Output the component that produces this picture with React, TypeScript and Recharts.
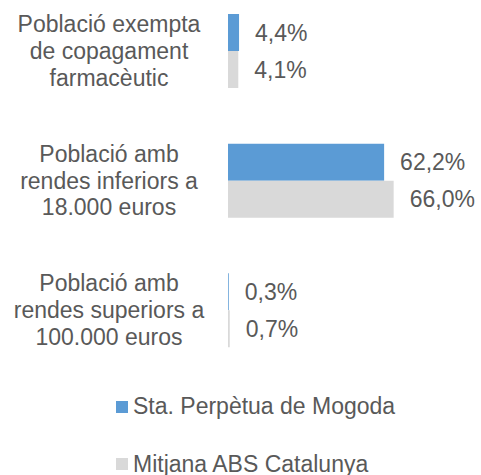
import React from 'react'
import { BarChart, Bar, XAxis, YAxis, LabelList, Legend } from 'recharts'

// categories (line breaks as in the original labels)
const categories = [
  'Població exempta\nde copagament\nfarmacèutic',
  'Població amb\nrendes inferiors a\n18.000 euros',
  'Població amb\nrendes superiors a\n100.000 euros',
]
const mogoda = [4.4, 62.2, 0.3]
const catalunya = [4.1, 66.0, 0.7]
const seriesNames = ['Sta. Perpètua de Mogoda', 'Mitjana ABS Catalunya']

const data = categories.map((c, i) => ({
  name: c,
  mogoda: mogoda[i],
  catalunya: catalunya[i],
}))

const FONT = '"Liberation Sans", Arial, sans-serif'
const TEXT = '#595959'
const BLUE = '#5B9BD5'
const GRAY = '#D9D9D9'

const fmt = (v: unknown) => `${(v as number).toFixed(1).replace('.', ',')}%`

// etiqueta de categoria en diverses línies, centrada
const CategoryTick = (props: any) => {
  const { x, y, payload } = props
  const lines = String(payload.value).split('\n')
  const lineH = 26.7
  const cx = x - 119
  return (
    <text x={cx} y={y} textAnchor="middle" fill={TEXT} fontSize={23} fontFamily={FONT}>
      {lines.map((l, i) => (
        <tspan key={i} x={cx} dy={i === 0 ? -lineH * (lines.length - 1) / 2 + 8 : lineH}>
          {l}
        </tspan>
      ))}
    </text>
  )
}

const LegendContent = (props: any) => {
  // mateix ordre que les sèries
  const items = [...(props.payload || [])].sort(
    (a: any, b: any) => seriesNames.indexOf(a.value) - seriesNames.indexOf(b.value)
  )
  return (
    <div style={{ height: 100, position: 'relative', fontFamily: FONT, fontSize: 23, color: TEXT }}>
      {items.map((p: any, i: number) => (
        <div
          key={i}
          style={{
            position: 'absolute',
            top: 18 + i * 57.5,
            left: 0,
            height: 27,
            display: 'flex',
            alignItems: 'center',
            whiteSpace: 'nowrap',
          }}
        >
          <span style={{ width: 12, height: 12, background: p.color, marginRight: 5, display: 'inline-block' }} />
          <span style={{ lineHeight: '27px' }}>{p.value}</span>
        </div>
      ))}
    </div>
  )
}

export default function App() {
  return (
    <div style={{ position: 'absolute', top: 0, left: 0, width: 481, height: 475, background: '#fff' }}>
      <BarChart
        width={481}
        height={475}
        data={data}
        layout="vertical"
        margin={{ top: -14, right: 2, left: 0, bottom: 0 }}
        barGap={0}
      >
        <XAxis type="number" domain={[0, 100]} hide />
        <YAxis
          type="category"
          dataKey="name"
          width={228}
          axisLine={false}
          tickLine={false}
          tickSize={0}
          tickMargin={0}
          tick={<CategoryTick />}
          interval={0}
        />
        <Legend
          layout="vertical"
          verticalAlign="bottom"
          content={<LegendContent />}
          wrapperStyle={{ left: 116, bottom: 0, width: 320, height: 100 }}
        />
        <Bar dataKey="mogoda" name={seriesNames[0]} fill={BLUE} barSize={37} isAnimationActive={false}>
          <LabelList dataKey="mogoda" position="right" offset={16} formatter={fmt} fill={TEXT} fontSize={23} fontFamily={FONT} />
        </Bar>
        <Bar dataKey="catalunya" name={seriesNames[1]} fill={GRAY} barSize={37} isAnimationActive={false}>
          <LabelList dataKey="catalunya" position="right" offset={16} formatter={fmt} fill={TEXT} fontSize={23} fontFamily={FONT} />
        </Bar>
      </BarChart>
    </div>
  )
}
